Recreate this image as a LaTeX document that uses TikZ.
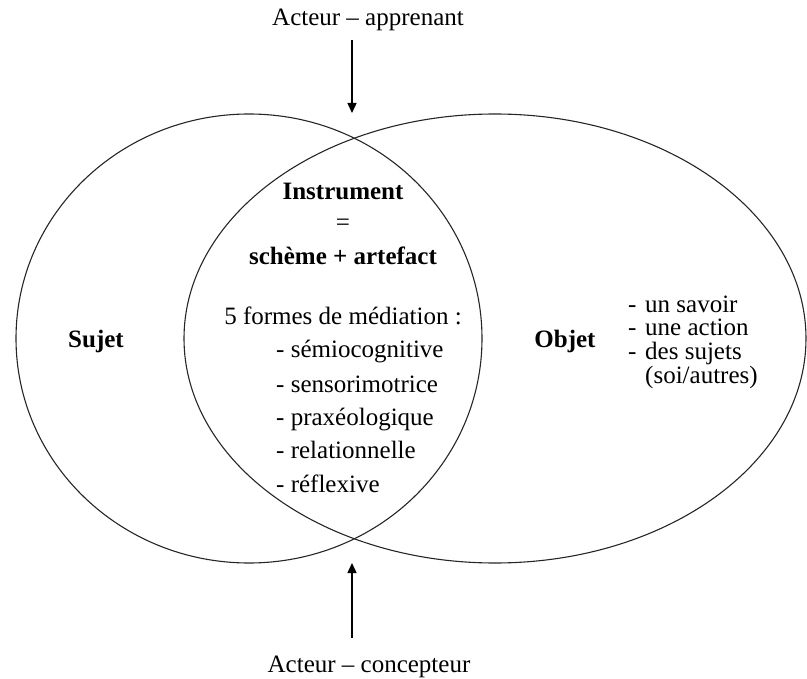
\documentclass[tikz,border=0pt]{standalone}
\usepackage{fontspec}
\setmainfont{Liberation Serif}
\usetikzlibrary{arrows.meta}

\def\fsize{\fontsize{25}{29}\selectfont}

\begin{document}
\begin{tikzpicture}[x=1pt, y=-1pt,
    nodes = {font=\fsize, inner sep=0pt, anchor=base},
    pole/.style = {font=\fsize\bfseries},
    actor/.style = {line width=1.4pt, -{Triangle[length=10pt,width=9pt]}},
    zone/.style = {line width=1.1pt, draw=black!85}]
  \useasboundingbox (0,0) rectangle (807,679);

  % Sujet and Objet
  \draw[zone] (249,338.5) ellipse [x radius=233, y radius=224.5];
  \draw[zone] (495,338.5) ellipse [x radius=311, y radius=224.5];
  \node[pole] (sujet) at (96,348) {Sujet};
  \node[pole] (objet) at (565,348) {Objet};

  % Instrument in the middle
  \node[pole] (instrument) at (343,200) {Instrument};
  \node (equals) at (343,231) {=};
  \node[pole] (formule) at (343,265) {schème + artefact};
  \node (formes) at (343,325) {5 formes de médiation :};
  \foreach \y/\forme in {
      358/sémiocognitive,
      392/sensorimotrice,
      425/praxéologique,
      458/relationnelle,
      492/réflexive
    } {
      \node[anchor=base west] (forme-\y) at (276,\y) {- \forme};
    };

  % what the object can be
  \foreach \y/\item/\dash in {
      313/{un savoir}/-,
      336/{une action}/-,
      360/{des sujets}/-,
      384/{(soi/autres)}/{}
    } {
      \node[anchor=base west] (dash-\y) at (628,\y) {\dash};
      \node[anchor=base west] (objet-\y) at (645,\y) {\item};
    };

  % the two actors
  \node (apprenant) at (368,26) {Acteur -- apprenant};
  \node (concepteur) at (369,672) {Acteur -- concepteur};
  \coordinate (haut) at (352,40);
  \coordinate (haut-pointe) at (352,113);
  \coordinate (bas) at (352,638);
  \coordinate (bas-pointe) at (352,563);
  \draw[actor] (haut) -- (haut-pointe);
  \draw[actor] (bas) -- (bas-pointe);
\end{tikzpicture}
\end{document}
